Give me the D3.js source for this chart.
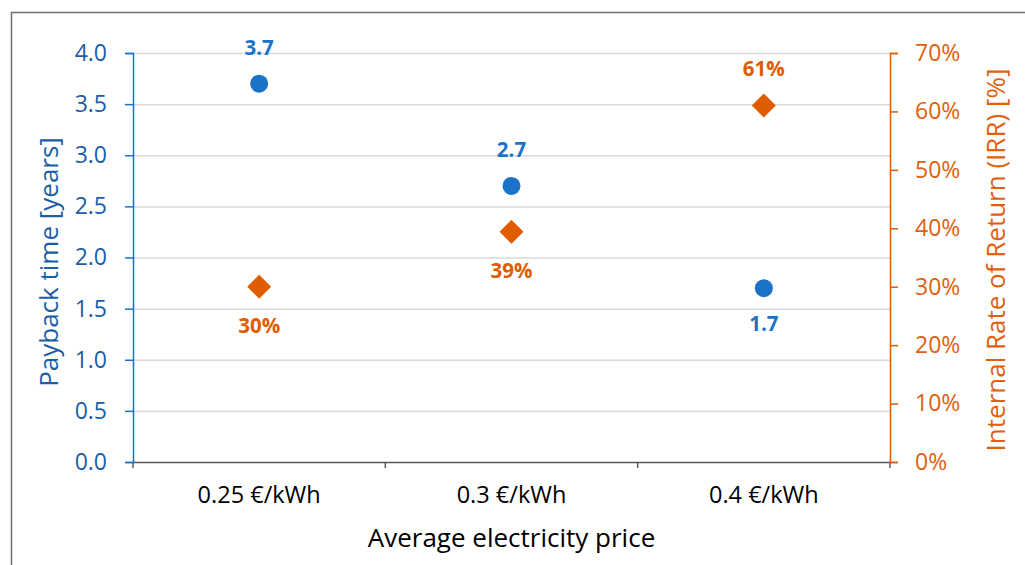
<!DOCTYPE html>
<html>
<head>
<meta charset="utf-8">
<script src="https://cdn.jsdelivr.net/npm/d3@7"></script>
<style>
  body { margin: 0; background: #fff; }
  svg { font-family: "Open Sans", sans-serif; }
</style>
</head>
<body>
<div id="chart"></div>
<script>
// data
const categories = ['0.25 €/kWh', '0.3 €/kWh', '0.4 €/kWh'];
const payback = [3.7, 2.7, 1.7];
const irr = [0.30, 0.394, 0.61];
const leftTicks = [0, 0.5, 1, 1.5, 2, 2.5, 3, 3.5, 4];
const rightTicks = [0, 0.1, 0.2, 0.3, 0.4, 0.5, 0.6, 0.7];

const width = 1025, height = 565;
const blue = '#1a73c8', blueText = '#1c5ea6';
const orange = '#e05c00', orangeText = '#e0600e';

const svg = d3.select('#chart').append('svg')
    .attr('width', width)
    .attr('height', height);

// outer frame (cut off at right and bottom, like the screenshot)
svg.append('rect')
    .attr('x', 11.5).attr('y', 12.5)
    .attr('width', 1100).attr('height', 700)
    .attr('fill', 'none')
    .attr('stroke', '#6e6e6e')
    .attr('stroke-width', 1.5);

const margin = { top: 53, left: 133, right: 135, bottom: 103 };
const w = width - margin.left - margin.right;
const h = height - margin.top - margin.bottom;

const chart = svg.append('g')
    .attr('transform', `translate(${margin.left},${margin.top})`);

const xScale = d3.scaleBand().domain(categories).range([0, w]);
const yLeft = d3.scaleLinear().domain([0, 4]).range([h, 0]);
const yRight = d3.scaleLinear().domain([0, 0.7]).range([h, 0]);

// gridlines
chart.append('g')
    .classed('gridline', true)
    .call(d3.axisLeft(yLeft).tickValues(leftTicks.slice(1)).tickSize(-w).tickFormat(''))
    .call(g => g.select('.domain').remove())
    .call(g => g.selectAll('line').attr('stroke', '#d9d9d9').attr('stroke-width', 1.5));

// x axis
const xAxis = chart.append('g')
    .attr('transform', `translate(0,${h})`)
    .call(d3.axisBottom(xScale).tickSize(0).tickPadding(24))
    .attr('font-family', null).attr('font-size', null);
xAxis.select('.domain').attr('stroke', '#595959').attr('stroke-width', 1.5);
xAxis.selectAll('text').attr('fill', '#000').style('font-size', '23.5px');
// category boundary ticks
xAxis.selectAll('.bound')
    .data(categories.concat(['end']))
    .enter().append('line')
    .attr('x1', (d, i) => i < categories.length ? xScale(d) : w)
    .attr('x2', (d, i) => i < categories.length ? xScale(d) : w)
    .attr('y1', 0).attr('y2', 6)
    .attr('stroke', '#595959').attr('stroke-width', 1.5);

// left axis
const leftAxis = chart.append('g')
    .call(d3.axisLeft(yLeft).tickValues(leftTicks).tickFormat(d3.format('.1f')).tickSizeOuter(0).tickSize(8).tickPadding(18))
    .attr('font-family', null).attr('font-size', null);
leftAxis.select('.domain').attr('stroke', blue).attr('stroke-width', 1.5);
leftAxis.selectAll('line').attr('stroke', blue).attr('stroke-width', 1.5);
leftAxis.selectAll('text').attr('fill', blueText).style('font-size', '23px');

// right axis
const rightAxis = chart.append('g')
    .attr('transform', `translate(${w},0)`)
    .call(d3.axisRight(yRight).tickValues(rightTicks).tickFormat(d3.format('.0%')).tickSizeOuter(0).tickSize(8).tickPadding(17))
    .attr('font-family', null).attr('font-size', null);
rightAxis.select('.domain').attr('stroke', orange).attr('stroke-width', 1.5);
rightAxis.selectAll('line').attr('stroke', orange).attr('stroke-width', 1.5);
rightAxis.selectAll('text').attr('fill', orangeText).style('font-size', '23px');

const cx = d => xScale(d) + xScale.bandwidth() / 2;

// payback points
chart.selectAll('.payback')
    .data(categories)
    .enter().append('circle')
    .classed('payback', true)
    .attr('cx', d => cx(d))
    .attr('cy', (d, i) => yLeft(payback[i]))
    .attr('r', 9)
    .attr('fill', blue);

// irr diamonds
chart.selectAll('.irr')
    .data(categories)
    .enter().append('path')
    .classed('irr', true)
    .attr('transform', (d, i) => `translate(${cx(d)},${yRight(irr[i])})`)
    .attr('d', 'M0,-12L12,0L0,12L-12,0Z')
    .attr('fill', orange);

// labels: above when the point is the upper one
chart.selectAll('.payback-label')
    .data(categories)
    .enter().append('text')
    .attr('x', d => cx(d))
    .attr('y', (d, i) => yLeft(payback[i]) + (payback[i] / 4 > irr[i] / 0.7 ? -29 : 43))
    .attr('text-anchor', 'middle')
    .attr('fill', blue)
    .style('font-size', '20.5px')
    .style('font-weight', 'bold')
    .text((d, i) => d3.format('.1f')(payback[i]));

chart.selectAll('.irr-label')
    .data(categories)
    .enter().append('text')
    .attr('x', d => cx(d))
    .attr('y', (d, i) => yRight(irr[i]) + (payback[i] / 4 > irr[i] / 0.7 ? 46 : -30))
    .attr('text-anchor', 'middle')
    .attr('fill', orange)
    .style('font-size', '20.5px')
    .style('font-weight', 'bold')
    .text((d, i) => d3.format('.0%')(irr[i]));

// axis titles
svg.append('text')
    .attr('transform', `translate(58,262) rotate(-90)`)
    .attr('text-anchor', 'middle')
    .attr('fill', blueText)
    .style('font-size', '26px')
    .text('Payback time [years]');

svg.append('text')
    .attr('transform', `translate(1005,260) rotate(-90)`)
    .attr('text-anchor', 'middle')
    .attr('fill', orangeText)
    .style('font-size', '26px')
    .text('Internal Rate of Return (IRR) [%]');

svg.append('text')
    .attr('x', margin.left + w / 2)
    .attr('y', 547)
    .attr('text-anchor', 'middle')
    .attr('fill', '#000')
    .style('font-size', '26px')
    .text('Average electricity price');
</script>
</body>
</html>
